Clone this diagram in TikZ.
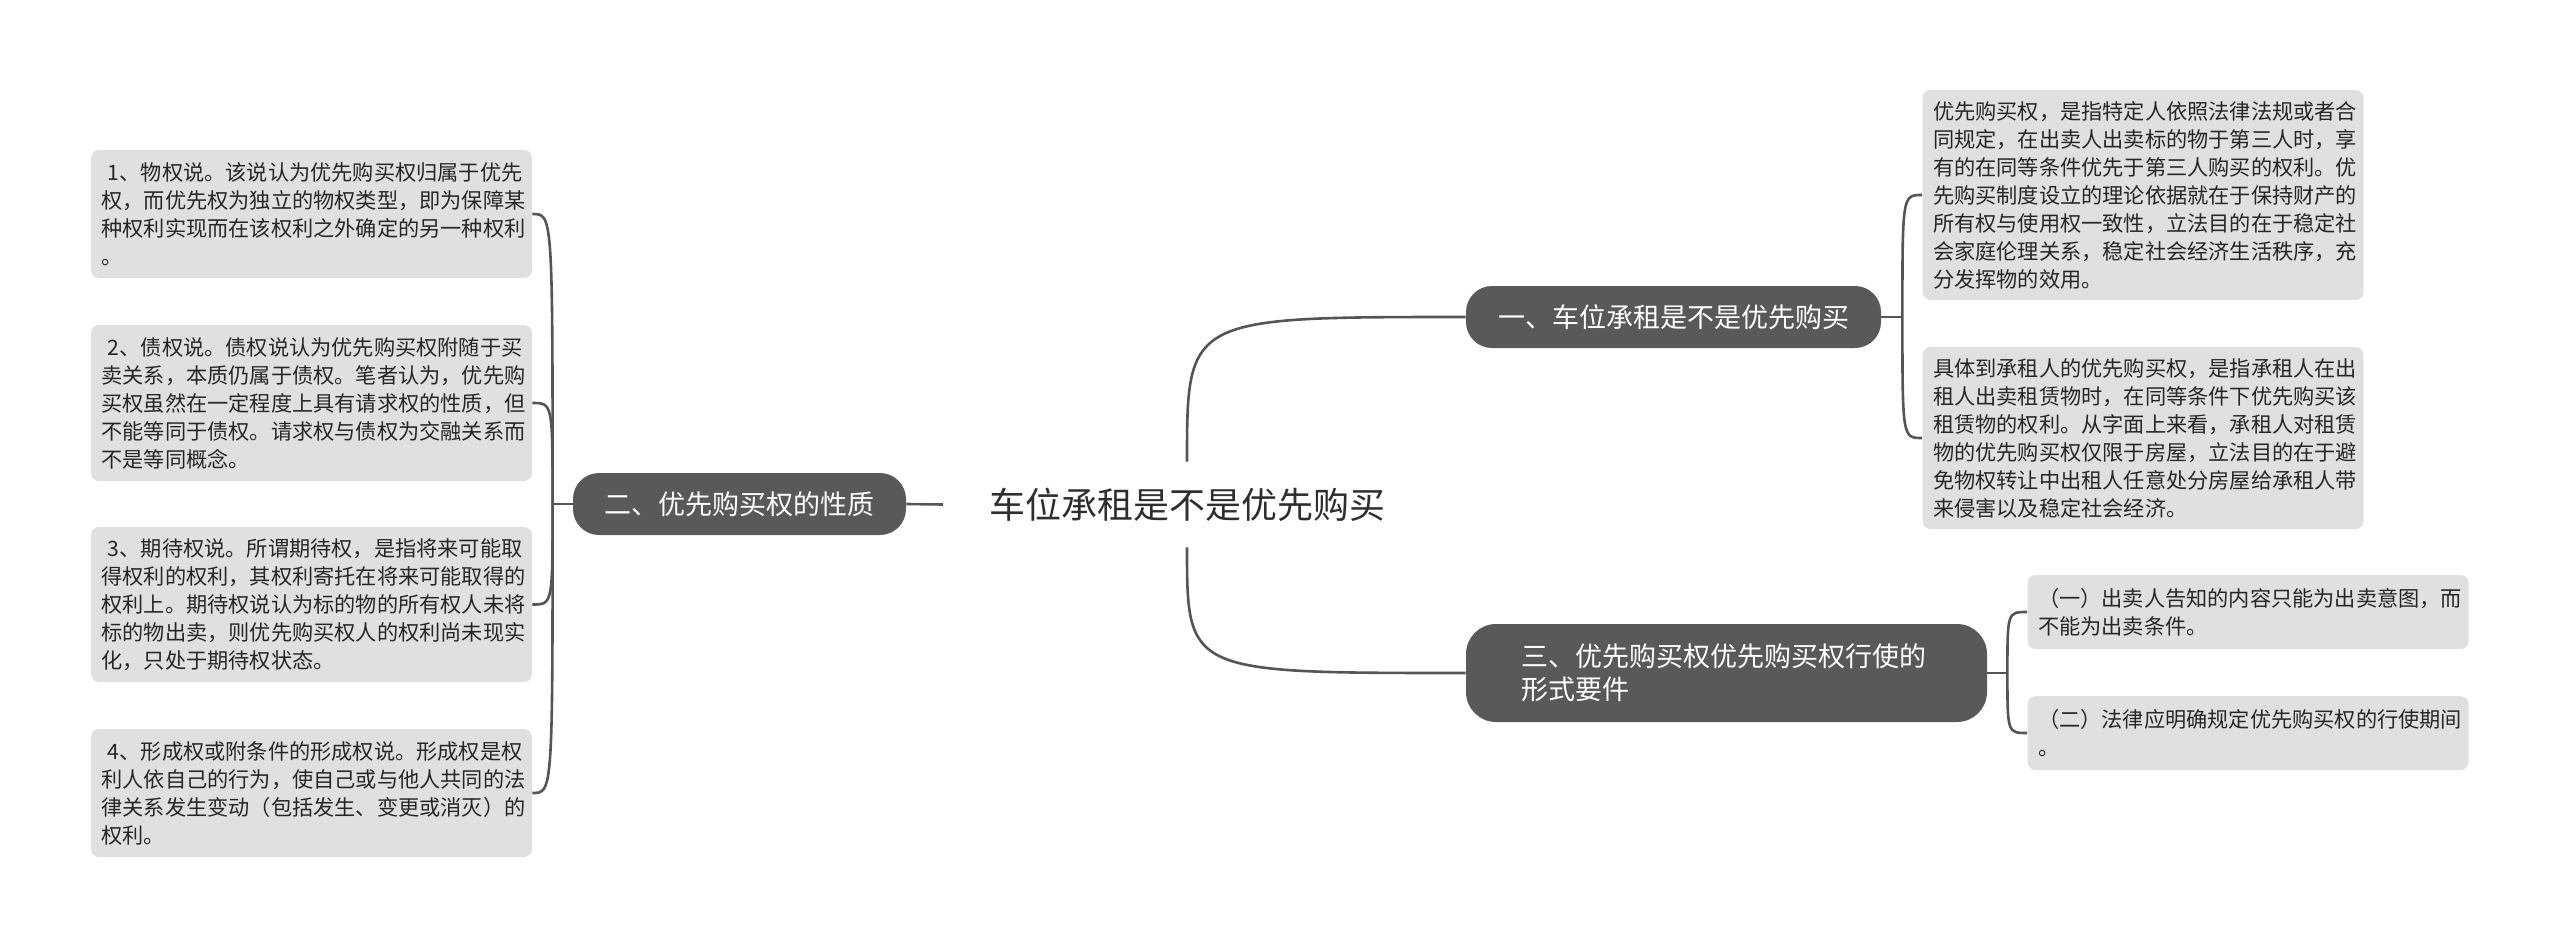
\documentclass[tikz,border=0pt]{standalone}
\usepackage{fontspec}
\setmainfont{Noto Sans CJK SC}
\hfuzz=50pt
\definecolor{topicfill}{HTML}{595959}
\definecolor{leaffill}{HTML}{E0E0E0}
\definecolor{leaftext}{HTML}{262626}
\definecolor{linecol}{HTML}{555555}
\definecolor{roottext}{HTML}{2E2E2E}
\tikzset{
  leaf/.style={fill=leaffill, rounded corners=4pt, text width=210pt, inner xsep=5.25pt, inner ysep=0pt,
    align=left, font=\fontsize{10.6}{14}\selectfont, text=leaftext},
  topic/.style={fill=topicfill, rounded corners=13pt, text=white, font=\fontsize{13.5}{16.5}\selectfont,
    inner sep=0pt, minimum height=31pt},
  conn/.style={draw=linecol, line width=1.3pt},
}
\begin{document}
\begin{tikzpicture}[x=0.5pt,y=-0.5pt]
\useasboundingbox (0,0) rectangle (2560,948);

% root
\node[minimum width=243.5pt, minimum height=42.5pt, inner sep=0pt, text=roottext,
  font=\fontsize{18}{22}\selectfont] (root) at (1187,504.5) {车位承租是不是优先购买};

% main topics
\node[topic, minimum width=207.5pt] (n1) at (1673.5,317) {一、车位承租是不是优先购买};
\node[topic, minimum width=166.5pt] (n2) at (739.5,504) {二、优先购买权的性质};
\node[topic, minimum width=260.5pt, minimum height=49pt, text width=205pt, align=left, rounded corners=15pt] (n3) at (1726.5,673) {三、优先购买权优先购买权行使的\\形式要件};

% left leaves
\node[leaf, minimum height=64pt] (b1) at (311.5,214) {\hspace*{0.3em}1、物权说。该说认为优先购买权归属于优先\\权，而优先权为独立的物权类型，即为保障某\\种权利实现而在该权利之外确定的另一种权利\\。};
\node[leaf, minimum height=78pt] (b2) at (311.5,403) {\hspace*{0.3em}2、债权说。债权说认为优先购买权附随于买\\卖关系，本质仍属于债权。笔者认为，优先购\\买权虽然在一定程度上具有请求权的性质，但\\不能等同于债权。请求权与债权为交融关系而\\不是等同概念。};
\node[leaf, minimum height=77.5pt] (b3) at (311.5,604.5) {\hspace*{0.3em}3、期待权说。所谓期待权，是指将来可能取\\得权利的权利，其权利寄托在将来可能取得的\\权利上。期待权说认为标的物的所有权人未将\\标的物出卖，则优先购买权人的权利尚未现实\\化，只处于期待权状态。};
\node[leaf, minimum height=64pt] (b4) at (311.5,793) {\hspace*{0.3em}4、形成权或附条件的形成权说。形成权是权\\利人依自己的行为，使自己或与他人共同的法\\律关系发生变动（包括发生、变更或消灭）的\\权利。};

% right leaves
\node[leaf, minimum height=105pt] (r1) at (2143,195) {优先购买权，是指特定人依照法律法规或者合\\同规定，在出卖人出卖标的物于第三人时，享\\有的在同等条件优先于第三人购买的权利。优\\先购买制度设立的理论依据就在于保持财产的\\所有权与使用权一致性，立法目的在于稳定社\\会家庭伦理关系，稳定社会经济生活秩序，充\\分发挥物的效用。};
\node[leaf, minimum height=91pt] (r2) at (2143,438) {具体到承租人的优先购买权，是指承租人在出\\租人出卖租赁物时，在同等条件下优先购买该\\租赁物的权利。从字面上来看，承租人对租赁\\物的优先购买权仅限于房屋，立法目的在于避\\免物权转让中出租人任意处分房屋给承租人带\\来侵害以及稳定社会经济。};
\node[leaf, minimum height=37pt] (r3) at (2248,612) {（一）出卖人告知的内容只能为出卖意图，而\\不能为出卖条件。};
\node[leaf, minimum height=37pt] (r4) at (2248,733) {（二）法律应明确规定优先购买权的行使期间\\。};

% junctions
\coordinate (jL) at ([xshift=-10pt]n2.west);
\coordinate (jR1) at ([xshift=10.5pt]n1.east);
\coordinate (jR3) at ([xshift=10pt]n3.east);

% root connectors
\draw[conn] (root.north) .. controls (root.north |- n1.west) .. (n1.west);
\draw[conn] (root.south) .. controls (root.south |- n3.west) .. (n3.west);
\draw[conn] (root.west) -- (n2.east);

% left bracket
\draw[conn] (n2.west) -- (jL);
\foreach \b in {b1,b2,b3,b4}
  \draw[conn] (jL) .. controls (jL |- \b.east) .. (\b.east);

% right brackets
\draw[conn] (n1.east) -- (jR1);
\foreach \b in {r1,r2}
  \draw[conn] (jR1) .. controls (jR1 |- \b.west) .. (\b.west);
\draw[conn] (n3.east) -- (jR3);
\foreach \b in {r3,r4}
  \draw[conn] (jR3) .. controls (jR3 |- \b.west) .. (\b.west);
\end{tikzpicture}
\end{document}
